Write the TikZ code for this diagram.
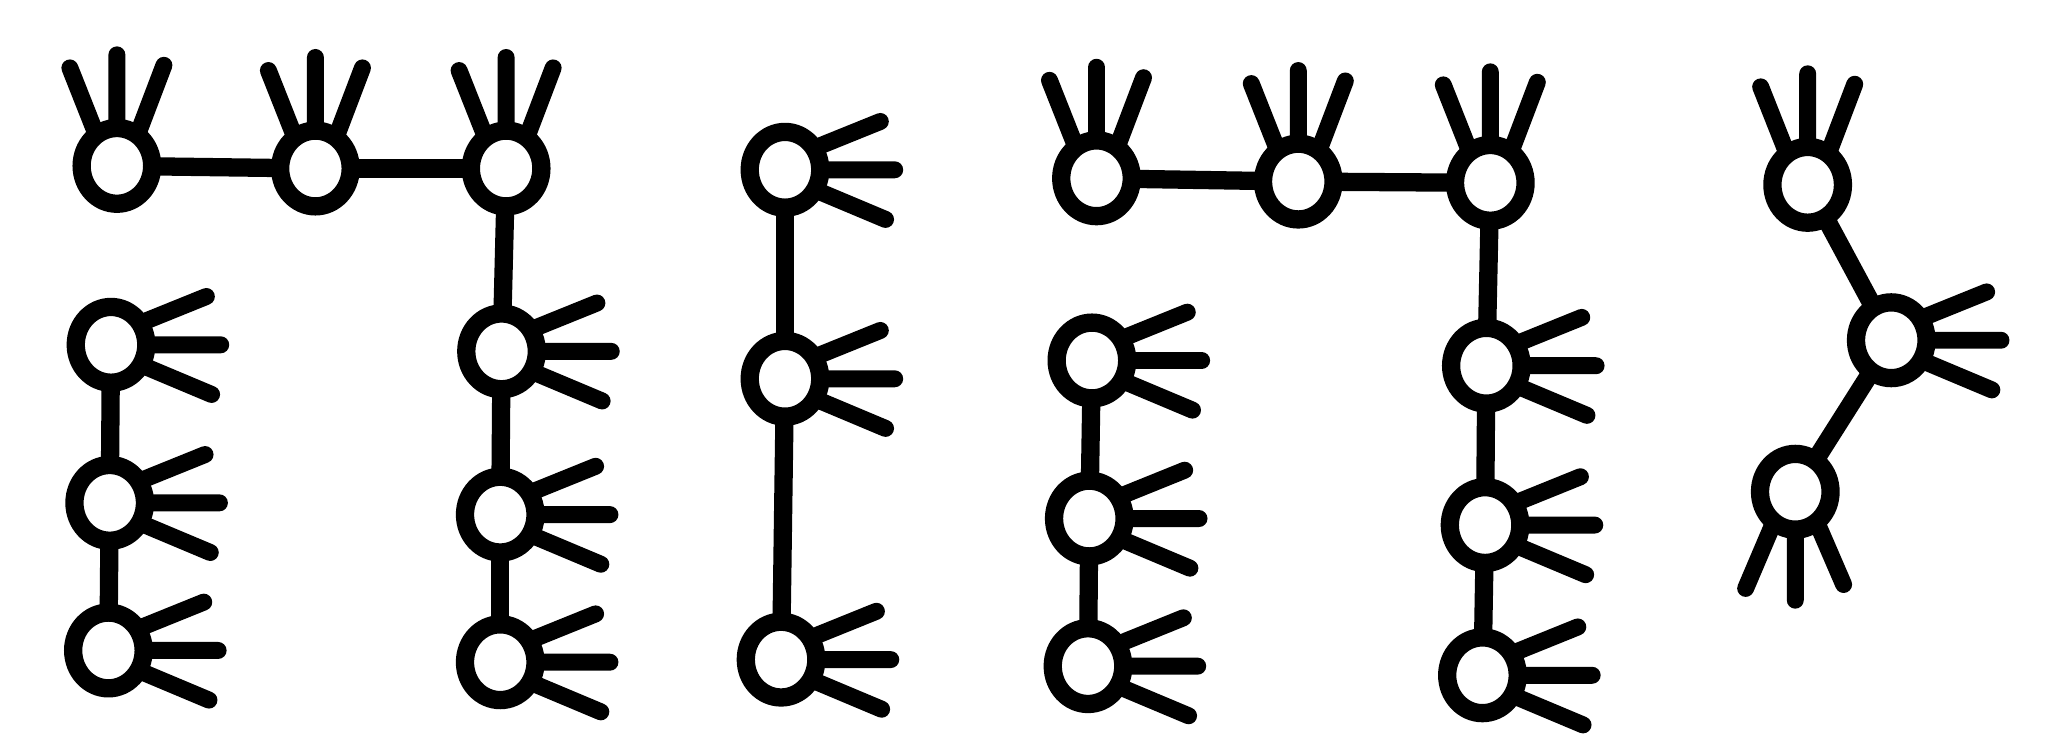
\documentclass[tikz,border=0pt]{standalone}
\usetikzlibrary{shapes.geometric}
\tikzset{
  glyph/.style={draw=black, line width=14pt, ellipse, minimum width=54pt, minimum height=58pt, inner sep=0pt, outer sep=0pt, fill=white},
  spk/.style={draw=black, line width=13pt, line cap=round},
  link/.style={draw=black, line width=14pt},
  upspikes/.pic={\draw[spk] (-17,-27) -- (-36,-75) (0,-30) -- (0,-85) (17,-27) -- (36,-77);},
  rightspikes/.pic={\draw[spk] (26,-18) -- (73,-37) (30,0) -- (84,0) (27,17) -- (77,38);},
  downspikes/.pic={\draw[spk] (-18,27) -- (-38,74) (0,30) -- (0,83) (18,27) -- (37,71);}
}
\begin{document}
\begin{tikzpicture}[x=1pt,y=-1pt]
\useasboundingbox[fill=white] (0,0) rectangle (1568,576);
% figure 1
\node[glyph] (C1) at (89.5,127) {};
\node[glyph] (C2) at (241.5,129) {};
\node[glyph] (C3) at (387.5,129) {};
\node[glyph] (L1) at (85,264) {};
\node[glyph] (L2) at (84,385) {};
\node[glyph] (L3) at (83,498) {};
\node[glyph] (D1) at (384,269) {};
\node[glyph] (D2) at (383,394) {};
\node[glyph] (D3) at (383,507) {};
% figure 2
\node[glyph] (M1) at (601,130) {};
\node[glyph] (M2) at (601,290) {};
\node[glyph] (M3) at (598,505) {};
% figure 3
\node[glyph] (T1) at (839.5,136.5) {};
\node[glyph] (T2) at (994,139) {};
\node[glyph] (T3) at (1141,140) {};
\node[glyph] (B1) at (836,276) {};
\node[glyph] (B2) at (834,397) {};
\node[glyph] (B3) at (833,510) {};
\node[glyph] (R1) at (1138,280) {};
\node[glyph] (R2) at (1137,402) {};
\node[glyph] (R3) at (1135,517) {};
% figure 4
\node[glyph] (F1) at (1384,141.5) {};
\node[glyph] (F2) at (1448,260.5) {};
\node[glyph] (F3) at (1374.5,376.5) {};
% spikes
\foreach \n in {C1,C2,C3,T1,T2,T3,F1} {\pic at (\n) {upspikes};}
\foreach \n in {L1,L2,L3,D1,D2,D3,M1,M2,M3,B1,B2,B3,R1,R2,R3,F2} {\pic at (\n) {rightspikes};}
\pic at (F3) {downspikes};
% connectors
\draw[link] (C1) -- (C2);
\draw[link] (C2) -- (C3);
\draw[link] (C3) -- (D1);
\draw[link] (D1) -- (D2);
\draw[link] (D2) -- (D3);
\draw[link] (L1) -- (L2);
\draw[link] (L2) -- (L3);
\draw[link] (M1) -- (M2);
\draw[link] (M2) -- (M3);
\draw[link] (T1) -- (T2);
\draw[link] (T2) -- (T3);
\draw[link] (T3) -- (R1);
\draw[link] (R1) -- (R2);
\draw[link] (R2) -- (R3);
\draw[link] (B1) -- (B2);
\draw[link] (B2) -- (B3);
\draw[link] (F1) -- (F2);
\draw[link] (F2) -- (F3);
\end{tikzpicture}
\end{document}
